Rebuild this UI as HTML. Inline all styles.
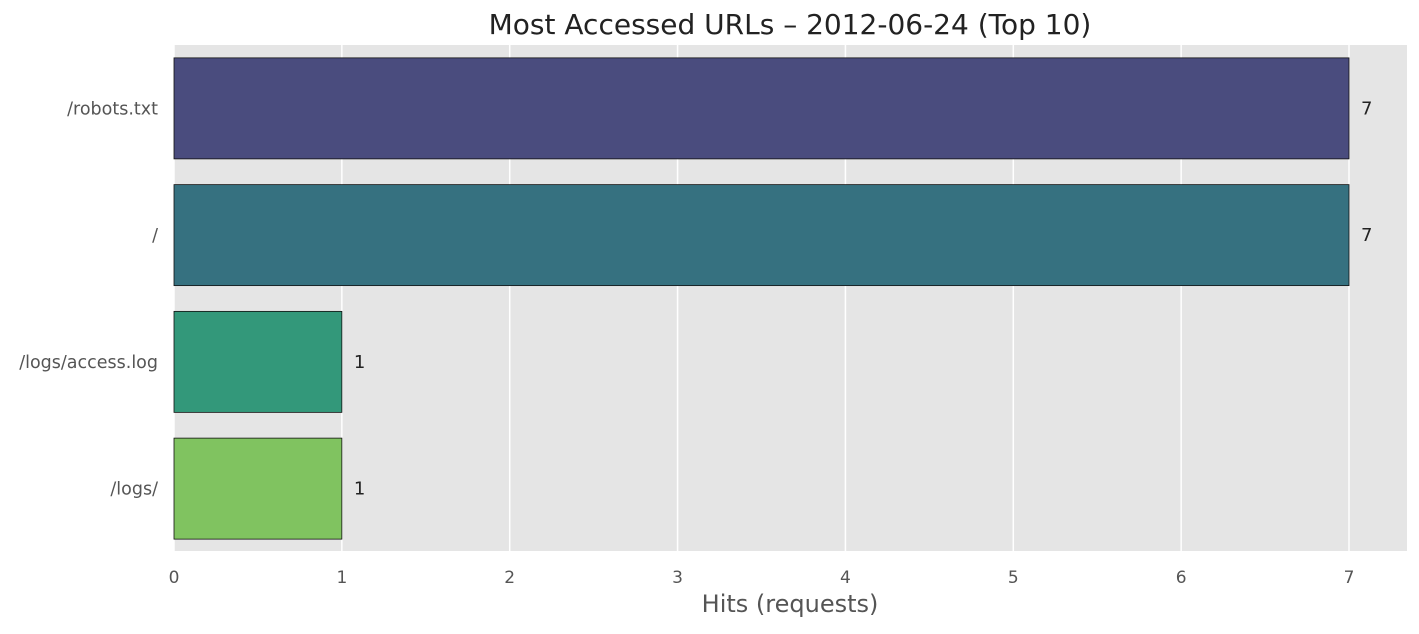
<!DOCTYPE html>
<html><head><meta charset="utf-8"><style>
body{margin:0;background:#fff;font-family:"Liberation Sans","DejaVu Sans",sans-serif;}
svg text{font-family:"DejaVu Sans","Liberation Sans",sans-serif;}
</style></head><body>
<svg id="chart" width="1419" height="629">
<text x="790" y="34" font-size="28" text-anchor="middle" fill="#222">Most Accessed URLs – 2012-06-24 (Top 10)</text>
<rect x="174" y="45" width="1233" height="506" fill="#e5e5e5"/>
<g id="grid"></g><g id="bars"></g><g id="xticks"></g><g id="ylabels"></g>
<text x="790" y="612" font-size="24" text-anchor="middle" fill="#555">Hits (requests)</text>
</svg>
<script>
const categories=["/robots.txt","/","/logs/access.log","/logs/"];
const values=[7,7,1,1];
const colors=["#4a4c7e","#367180","#33987a","#80c360"];
const xTicks=[0,1,2,3,4,5,6,7];
const NS="http://www.w3.org/2000/svg";
const x0=174,pxPer=(1349-174)/7,top0=45,band=126.75,barH=101;
const xs=v=>x0+v*pxPer;
const yc=i=>top0+band/2+i*band;
function mk(tag,attrs,parent){const e=document.createElementNS(NS,tag);for(const k in attrs)e.setAttribute(k,attrs[k]);document.getElementById(parent).appendChild(e);return e;}
xTicks.forEach(t=>{
 const l=mk("line",{x1:xs(t),x2:xs(t),y1:45,y2:551,stroke:"#fff","stroke-width":1.5},"grid");
 
 
 const tx=mk("text",{x:xs(t),y:583,"font-size":17,"text-anchor":"middle",fill:"#555"},"xticks");
 tx.textContent=t;
 
 
});
categories.forEach((c,i)=>{
 const r=mk("rect",{x:x0,y:yc(i)-barH/2,width:xs(values[i])-x0,height:barH,fill:colors[i],stroke:"#111","stroke-width":0.8},"bars");
 
 
 const v=mk("text",{x:xs(values[i])+12,y:yc(i)+6,"font-size":18,fill:"#222"},"bars");
 v.textContent=values[i];
 
 
 const lb=mk("text",{x:158,y:yc(i)+6,"font-size":17.5,"text-anchor":"end",fill:"#555"},"ylabels");
 lb.textContent=c;
 
 
});
</script>
</body></html>
